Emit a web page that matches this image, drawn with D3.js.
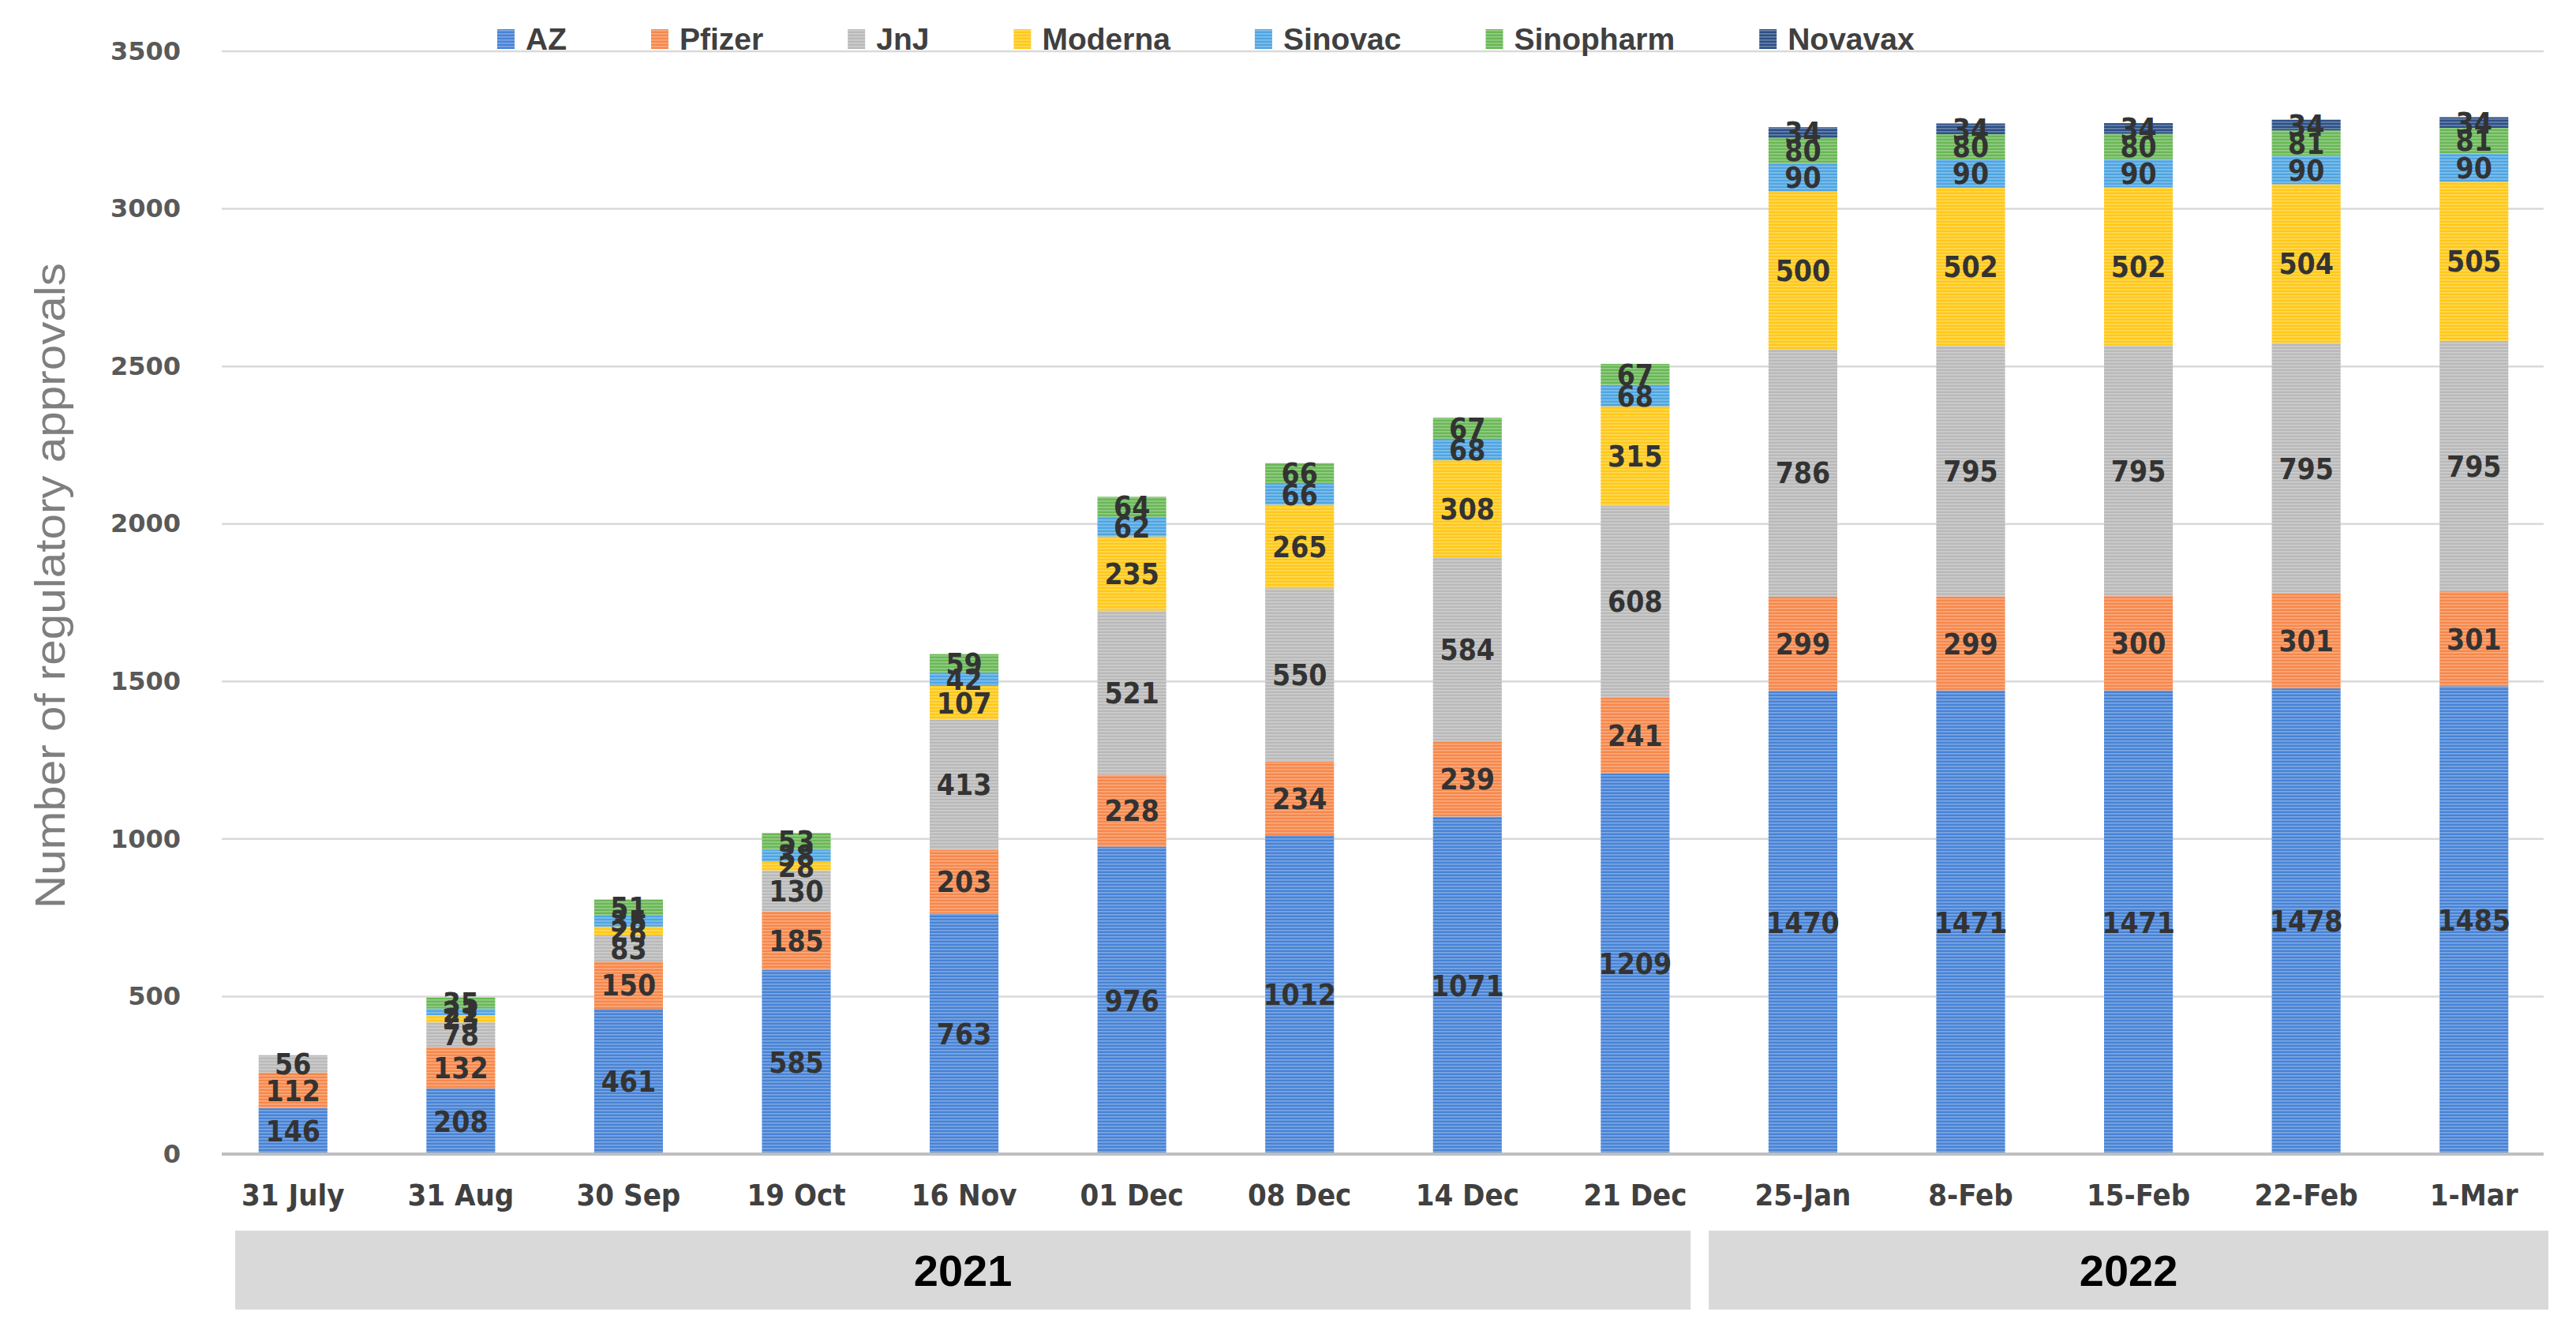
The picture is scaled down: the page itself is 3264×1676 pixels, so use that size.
<!DOCTYPE html>
<html>
<head>
<meta charset="utf-8">
<script src="https://cdn.jsdelivr.net/npm/d3@7"></script>
<style>
  html, body { margin: 0; padding: 0; background: #fff; }
  svg { display: block; }
</style>
</head>
<body>
<svg id="chart" width="3264" height="1676"></svg>
<script>
// categories and values
const dates = ["31 July", "31 Aug", "30 Sep", "19 Oct", "16 Nov", "01 Dec", "08 Dec",
  "14 Dec", "21 Dec", "25-Jan", "8-Feb", "15-Feb", "22-Feb", "1-Mar"]

const AZ        = [146, 208, 461, 585, 763, 976, 1012, 1071, 1209, 1470, 1471, 1471, 1478, 1485]
const Pfizer    = [112, 132, 150, 185, 203, 228, 234, 239, 241, 299, 299, 300, 301, 301]
const JnJ       = [56, 78, 83, 130, 413, 521, 550, 584, 608, 786, 795, 795, 795, 795]
const Moderna   = [0, 23, 28, 28, 107, 235, 265, 308, 315, 500, 502, 502, 504, 505]
const Sinovac   = [0, 21, 35, 38, 42, 62, 66, 68, 68, 90, 90, 90, 90, 90]
const Sinopharm = [0, 35, 51, 53, 59, 64, 66, 67, 67, 80, 80, 80, 81, 81]
const Novavax   = [0, 0, 0, 0, 0, 0, 0, 0, 0, 34, 34, 34, 34, 34]

const seriesNames = ["AZ", "Pfizer", "JnJ", "Moderna", "Sinovac", "Sinopharm", "Novavax"]
const seriesValues = [AZ, Pfizer, JnJ, Moderna, Sinovac, Sinopharm, Novavax]

const yTicks = [0, 500, 1000, 1500, 2000, 2500, 3000, 3500]

const groupYears = ["2021", "2022"]
const groupFirst = ["31 July", "25-Jan"]
const groupLast  = ["21 Dec", "1-Mar"]

// styling
const colors = ["#4783d6", "#f7874a", "#b9b9b9", "#ffc817", "#4ea5e2", "#69b755", "#2b4f85"]
const narrow = "'Liberation Sans Narrow', 'DejaVu Sans Condensed', sans-serif"

const svg = d3.select("#chart")

// striped fills like the original bars
const defs = svg.append("defs")
colors.forEach((c, i) => {
  let p = defs.append("pattern")
    .attr("id", "stripe" + i)
    .attr("patternUnits", "userSpaceOnUse")
    .attr("width", 8).attr("height", 4)
  p.append("rect").attr("width", 8).attr("height", 4).attr("fill", c)
  p.append("rect").attr("y", 2).attr("width", 8).attr("height", 1.6)
    .attr("fill", d3.interpolateRgb(c, "#ffffff")(0.3))
})

const x = d3.scaleBand()
  .domain(dates)
  .range([265, 3241])
  .paddingInner(0.59)
  .paddingOuter(0.295)

const y = d3.scaleLinear()
  .domain([0, 3500])
  .range([1462, 65])

// gridlines
svg.append("g")
  .selectAll("line")
  .data(yTicks.filter(d => d > 0))
  .join("line")
  .attr("x1", 281).attr("x2", 3223)
  .attr("y1", d => y(d)).attr("y2", d => y(d))
  .attr("stroke", "#d9d9d9")
  .attr("stroke-width", 2.5)

// y axis labels
const yAxis = svg.append("g")
  .attr("transform", "translate(229,0)")
  .call(d3.axisLeft(y).tickValues(yTicks).tickFormat(d3.format("d")).tickSize(0).tickPadding(0))
yAxis.select(".domain").remove()
yAxis.selectAll("text")
  .attr("font-family", "'DejaVu Sans', sans-serif")
  .attr("font-weight", "bold")
  .attr("font-size", 32)
  .attr("fill", "#595959")

// stacked bars
const rows = dates.map((d, i) => {
  let r = { date: d }
  seriesNames.forEach((s, k) => { r[s] = seriesValues[k][i] })
  return r
})
const stacked = d3.stack().keys(seriesNames)(rows)

const layers = svg.append("g")
  .selectAll("g")
  .data(stacked)
  .join("g")
  .attr("fill", (d, i) => `url(#stripe${i})`)

layers.selectAll("rect")
  .data(d => d.filter(p => p[1] - p[0] > 0))
  .join("rect")
  .attr("x", p => x(p.data.date))
  .attr("width", x.bandwidth())
  .attr("y", p => y(p[1]))
  .attr("height", p => y(p[0]) - y(p[1]))

// zero line
svg.append("line")
  .attr("x1", 281).attr("x2", 3223)
  .attr("y1", y(0)).attr("y2", y(0))
  .attr("stroke", "#bfbfbf")
  .attr("stroke-width", 4)

// value labels
const labels = svg.append("g")
  .attr("font-family", narrow)
  .attr("font-weight", "bold")
  .attr("font-size", 37)
  .attr("fill", "#333333")
  .attr("text-anchor", "middle")
stacked.forEach(layer => {
  layer.filter(p => p[1] - p[0] > 0).forEach(p => {
    labels.append("text")
      .attr("x", x(p.data.date) + x.bandwidth() / 2)
      .attr("y", (y(p[0]) + y(p[1])) / 2)
      .attr("dy", "0.36em")
      .text(p[1] - p[0])
  })
})

// x axis labels
const xAxis = svg.append("g")
  .attr("transform", `translate(0,${y(0)})`)
  .call(d3.axisBottom(x).tickSize(0).tickPadding(38))
xAxis.select(".domain").remove()
xAxis.selectAll("text")
  .attr("font-family", narrow)
  .attr("font-weight", "bold")
  .attr("font-size", 38)
  .attr("fill", "#404040")

// year boxes under the dates
const boundary = (x(groupLast[0]) + x.bandwidth() + x(groupFirst[1])) / 2
const boxLeft = [265 + 33, boundary - 13]
const boxRight = [boundary - 36, 3241 - 12]
groupYears.forEach((yr, i) => {
  svg.append("rect")
    .attr("x", boxLeft[i]).attr("y", 1559)
    .attr("width", boxRight[i] - boxLeft[i]).attr("height", 100)
    .attr("fill", "#d9d9d9")
  svg.append("text")
    .attr("x", (boxLeft[i] + boxRight[i]) / 2)
    .attr("y", 1609)
    .attr("dy", "0.36em")
    .attr("text-anchor", "middle")
    .attr("font-family", "'Liberation Sans', Arial, sans-serif")
    .attr("font-weight", "bold")
    .attr("font-size", 56)
    .attr("fill", "#000")
    .text(yr)
})

// y axis title
svg.append("text")
  .attr("transform", "translate(82,742) rotate(-90)")
  .attr("text-anchor", "middle")
  .attr("font-family", "'Liberation Sans', Arial, sans-serif")
  .attr("font-size", 53)
  .attr("fill", "#7f7f7f")
  .attr("textLength", 818)
  .attr("lengthAdjust", "spacingAndGlyphs")
  .text("Number of regulatory approvals")

// legend
const legend = svg.append("g")
  .attr("font-family", "'Liberation Sans', Arial, sans-serif")
  .attr("font-weight", "bold")
  .attr("font-size", 39)
  .attr("fill", "#404040")
let lx = 630
seriesNames.forEach((s, i) => {
  legend.append("rect")
    .attr("x", lx).attr("y", 37)
    .attr("width", 22).attr("height", 25)
    .attr("fill", `url(#stripe${i})`)
  let t = legend.append("text")
    .attr("x", lx + 36).attr("y", 49)
    .attr("dy", "0.36em")
    .text(s)
  lx += 36 + t.node().getComputedTextLength() + 107
})
</script>
</body>
</html>
